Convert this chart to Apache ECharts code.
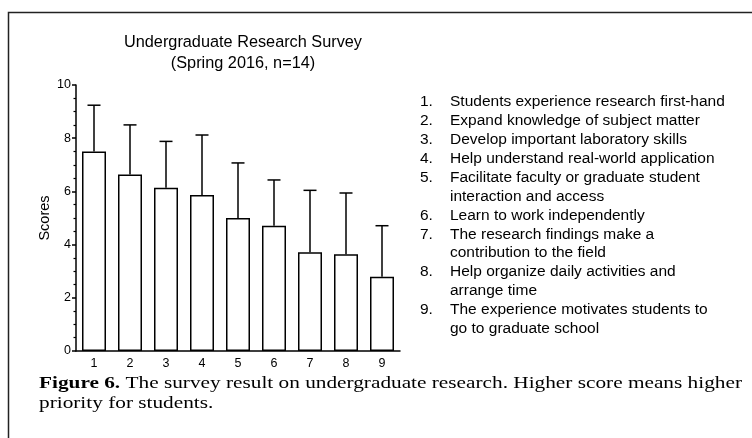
<!DOCTYPE html>
<html>
<head>
<meta charset="utf-8">
<script src="https://cdn.jsdelivr.net/npm/echarts@6/dist/echarts.min.js"></script>
<style>
  html, body { margin: 0; padding: 0; background: #fff; }
  #chart { width: 752px; height: 438px; }
</style>
</head>
<body>
<div id="chart"></div>
<script>
// survey items 1..9, mean score and standard deviation (n = 14)
const categories = ['1', '2', '3', '4', '5', '6', '7', '8', '9'];
const means = [7.5, 6.64, 6.14, 5.86, 5.0, 4.71, 3.71, 3.64, 2.79];
const sds = [1.74, 1.86, 1.74, 2.26, 2.07, 1.72, 2.33, 2.30, 1.92];
const legendLines = [
  ['1.', 'Students experience research first-hand'],
  ['2.', 'Expand knowledge of subject matter'],
  ['3.', 'Develop important laboratory skills'],
  ['4.', 'Help understand real-world application'],
  ['5.', 'Facilitate faculty or graduate student'],
  ['', 'interaction and access'],
  ['6.', 'Learn to work independently'],
  ['7.', 'The research findings make a'],
  ['', 'contribution to the field'],
  ['8.', 'Help organize daily activities and'],
  ['', 'arrange time'],
  ['9.', 'The experience motivates students to'],
  ['', 'go to graduate school'],
];

const font = 'Arial, "Liberation Sans", sans-serif';
const serif = '"Times New Roman", "Liberation Serif", serif';

const chart = echarts.init(document.getElementById('chart'));

const graphics = [
  {
    type: 'polyline',
    shape: { points: [[8.5, 438], [8.5, 12.5], [752, 12.5]] },
    style: { stroke: '#222', lineWidth: 1.5, fill: null },
  },
  {
    // caption is stretched sideways in the source figure
    type: 'text',
    x: 39,
    y: 374,
    scaleX: 1.33,
    style: {
      text: '{b|Figure 6.} The survey result on undergraduate research. Higher score means higher\npriority for students.',
      font: '16px ' + serif,
      fill: '#000',
      lineHeight: 20,
      rich: { b: { fontWeight: 'bold', fontFamily: serif, fontSize: 16 } },
    },
  },
];
legendLines.forEach((line, i) => {
  const y = 102 + i * 18.9;
  if (line[0]) {
    graphics.push({ type: 'text', x: 420, y, style: { text: line[0], font: '15.5px ' + font, fill: '#000', verticalAlign: 'middle' } });
  }
  graphics.push({ type: 'text', x: 450, y, style: { text: line[1], font: '15.5px ' + font, fill: '#000', verticalAlign: 'middle' } });
});

const option = {
  animation: false,
  title: {
    text: 'Undergraduate Research Survey\n(Spring 2016, n=14)',
    left: 238,
    top: 27,
    textAlign: 'center',
    textStyle: { fontFamily: font, fontSize: 16.3, fontWeight: 'normal', color: '#000', lineHeight: 21 },
  },
  grid: { left: 76, right: 352, top: 85, bottom: 87 },
  xAxis: {
    type: 'category',
    data: categories,
    axisLine: { lineStyle: { color: '#000', width: 1.5 } },
    axisTick: { alignWithLabel: true, length: 4, lineStyle: { color: '#000', width: 1.5 } },
    axisLabel: { fontFamily: font, fontSize: 12.5, color: '#000', margin: 6 },
  },
  yAxis: {
    type: 'value',
    min: 0,
    max: 10,
    interval: 2,
    name: 'Scores',
    nameLocation: 'middle',
    nameGap: 24,
    nameTextStyle: { fontFamily: font, fontSize: 14.5, color: '#000' },
    axisLine: { show: true, lineStyle: { color: '#000', width: 1.5 } },
    axisTick: { show: true, length: 4, lineStyle: { color: '#000', width: 1.5 } },
    minorTick: { show: true, splitNumber: 4, length: 2.5, lineStyle: { color: '#000', width: 1.2 } },
    splitLine: { show: false },
    axisLabel: { fontFamily: font, fontSize: 12.5, color: '#000', margin: 5 },
  },
  series: [
    {
      type: 'bar',
      data: means,
      barWidth: 24,
      itemStyle: { color: '#fff', borderColor: '#000', borderWidth: 1.5 },
      z: 2,
    },
    {
      type: 'custom',
      z: 3,
      data: means.map((m, i) => [i, m, m + sds[i]]),
      renderItem: (params, api) => {
        const base = api.coord([api.value(0), api.value(1)]);
        const top = api.coord([api.value(0), api.value(2)]);
        const half = 6.5;
        return {
          type: 'group',
          children: [
            { type: 'line', shape: { x1: base[0], y1: base[1], x2: top[0], y2: top[1] }, style: { stroke: '#000', lineWidth: 1.5 } },
            { type: 'line', shape: { x1: top[0] - half, y1: top[1], x2: top[0] + half, y2: top[1] }, style: { stroke: '#000', lineWidth: 1.5 } },
          ],
        };
      },
    },
  ],
  graphic: graphics,
};
chart.setOption(option);
</script>
</body>
</html>
